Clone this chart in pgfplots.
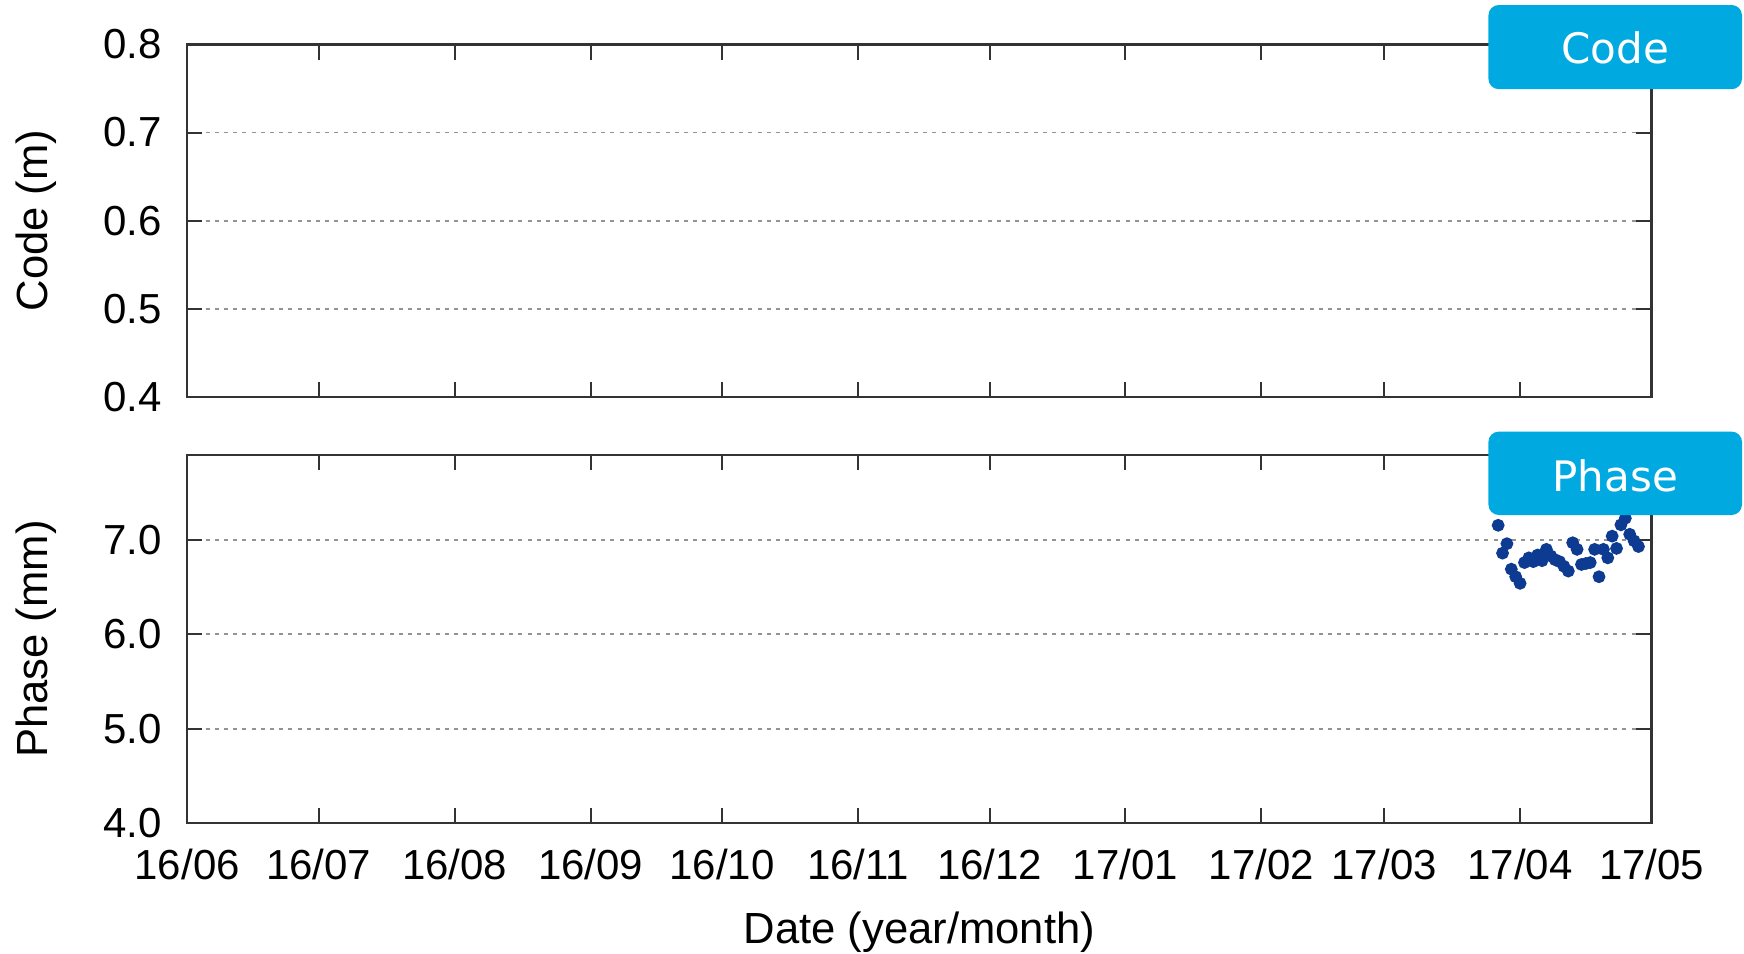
\documentclass[border=0pt]{standalone}
\usepackage{fontspec}
\setmainfont{Liberation Sans}
\newfontfamily\tagfont{DejaVu Sans}
\usepackage{pgfplots}
\usepackage{pgfplotstable}
\pgfplotsset{compat=1.18}

\definecolor{dotblue}{RGB}{13,59,145}
\definecolor{tagcyan}{RGB}{0,170,225}
\definecolor{framegray}{RGB}{51,51,51}

\newcommand{\labelfont}{\fontsize{10.9}{13}\selectfont}

% daily phase residuals, day counted from 2016-06-01
\pgfplotstableread{
day phase
299 7.155
300 6.86
301 6.96
302 6.69
303 6.61
304 6.54
305 6.76
306 6.81
307 6.77
308 6.84
309 6.78
310 6.90
311 6.83
312 6.79
313 6.77
314 6.72
315 6.67
316 6.97
317 6.90
318 6.74
319 6.75
320 6.76
321 6.90
322 6.61
323 6.90
324 6.81
325 7.04
326 6.91
327 7.16
328 7.23
329 7.06
330 6.99
331 6.93
}\phasedata

\pgfplotsset{
  panel/.style={
    scale only axis, width=366.1pt,
    xmin=0, xmax=334,
    xtick={0,30,61,92,122,153,183,214,245,273,304,334},
    tick align=inside, xtick pos=both, ytick pos=both,
    major tick length=3.8pt,
    axis line style={framegray, line width=0.6pt},
    every tick/.style={framegray, line width=0.5pt},
    ymajorgrids,
    grid style={gray!85, line width=0.45pt, dash pattern=on 1pt off 1.3pt},
    tick label style={font=\fontsize{10.5}{12}\selectfont},
    xticklabel style={yshift=-3pt},
    yticklabel style={xshift=-2.8pt, /pgf/number format/.cd, fixed, fixed zerofill, precision=1},
    /pgf/number format/assume math mode=true,
    every axis y label/.style={at={(axis description cs:-0.103,0.5)}, rotate=90, anchor=center, font=\labelfont},
  }
}

\begin{document}
\begin{tikzpicture}
% code panel
\begin{axis}[panel,
  at={(46.8pt,-99.2pt)}, anchor=south west,
  height=88.1pt,
  ymin=0.4, ymax=0.8, ytick={0.4,0.5,0.6,0.7,0.8},
  xticklabels={},
  ylabel={Code (m)},
]
\end{axis}
% phase panel
\begin{axis}[panel,
  at={(46.8pt,-205.75pt)}, anchor=south west,
  height=92pt,
  ymin=4, ymax=7.9, ytick={4,5,6,7},
  xticklabels={16/06,16/07,16/08,16/09,16/10,16/11,16/12,17/01,17/02,17/03,17/04,17/05},
  ylabel={Phase (mm)},
  xlabel={Date (year/month)},
  every axis x label/.style={at={(axis description cs:0.5,-0.297)}, anchor=center, font=\labelfont},
]
\addplot[only marks, mark=*, mark size=1.4pt, color=dotblue] table[x=day, y=phase] {\phasedata};
\end{axis}
% panel tags
\fill[tagcyan, rounded corners=2.6pt] (372.1pt,-1.25pt) rectangle (435.5pt,-22.3pt);
\node[anchor=base, text=white, inner sep=0pt, font=\tagfont\fontsize{10.5}{12}\selectfont] at (403.8pt,-15.8pt) {Code};
\fill[tagcyan, rounded corners=2.6pt] (372.1pt,-107.9pt) rectangle (435.5pt,-128.75pt);
\node[anchor=base, text=white, inner sep=0pt, font=\tagfont\fontsize{10.5}{12}\selectfont] at (403.8pt,-122.9pt) {Phase};
\pgfresetboundingbox
\useasboundingbox (0pt,0pt) rectangle (436pt,-238.25pt);
\end{tikzpicture}
\end{document}
